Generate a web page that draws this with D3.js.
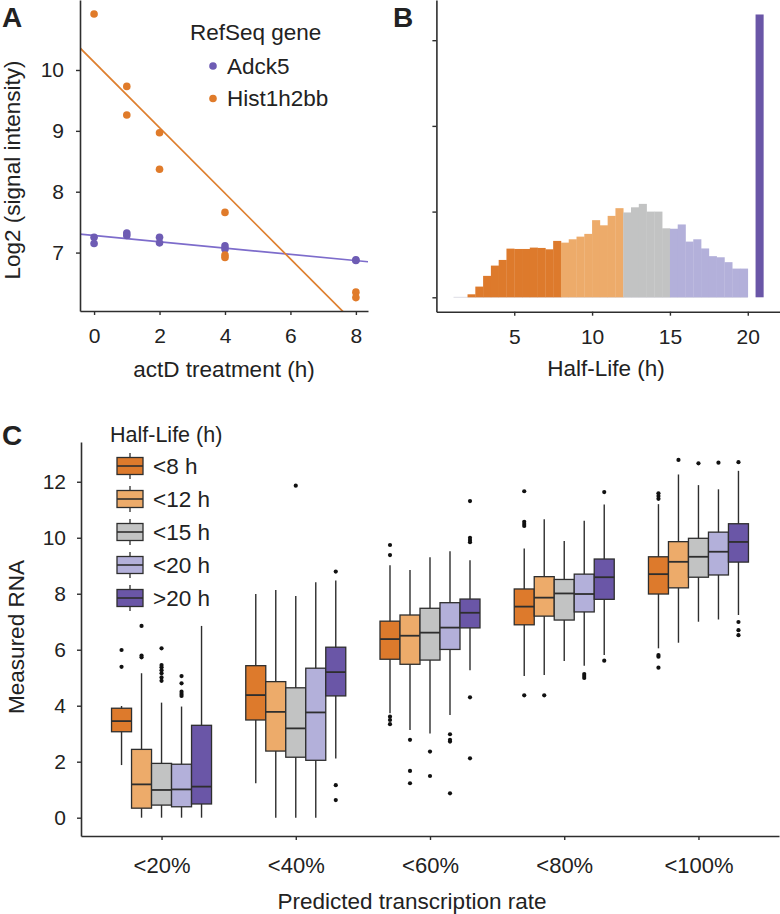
<!DOCTYPE html>
<html><head><meta charset="utf-8">
<script src="https://cdn.jsdelivr.net/npm/d3@7"></script>
<style>
body{margin:0;background:#fff}
svg{display:block}
text{font-family:"Liberation Sans",Arial,Helvetica,sans-serif;fill:#222}
</style>
</head><body><svg id="c" width="780" height="914"></svg>
<script>
// ---------- Panel A data ----------
const timeTicks = [0, 2, 4, 6, 8];
const log2Ticks = [7, 8, 9, 10];
const genes = ["Adck5", "Hist1h2bb"];
const adck5Time  = [0, 0, 1, 1, 2, 2, 4, 4, 8, 8];
const adck5Value = [7.25, 7.15, 7.32, 7.28, 7.25, 7.16, 7.11, 7.06, 6.88, 6.87];
const histTime   = [0, 1, 1, 2, 2, 4, 4, 4, 8, 8];
const histValue  = [10.92, 9.73, 9.26, 8.97, 8.37, 7.66, 6.96, 6.92, 6.35, 6.26];
const fitIntercept = [7.28, 10.13];
const fitSlope     = [-0.0515, -0.539];

// ---------- Panel B data ----------
const halfLifeTicks = [5, 10, 15, 20];
const binStart = [2, 2.5, 3, 3.5, 4, 4.5, 5, 5.5, 6, 6.5, 7, 7.5,
                  8, 8.5, 9, 9.5, 10, 10.5, 11, 11.5,
                  12, 12.5, 13, 13.5, 14, 14.5,
                  15, 15.5, 16, 16.5, 17, 17.5, 18, 18.5, 19, 19.5, 20.5];
const binCount = [0.035, 0.125, 0.25, 0.37, 0.436, 0.568, 0.564, 0.564, 0.58, 0.576, 0.56, 0.658,
                  0.638, 0.677, 0.708, 0.74, 0.90, 0.84, 0.95, 1.04,
                  0.99, 1.05, 1.09, 1.0, 1.0, 0.805,
                  0.80, 0.85, 0.65, 0.677, 0.57, 0.48, 0.467, 0.41, 0.335, 0.335, 3.3];
const binGroup = [0,0,0,0,0,0,0,0,0,0,0,0, 1,1,1,1,1,1,1,1, 2,2,2,2,2,2, 3,3,3,3,3,3,3,3,3,3, 4];
const binWidth = 0.5;
const countTicks = [0, 1, 2, 3];

// ---------- Panel C data ----------
const rateCats = ["<20%", "<40%", "<60%", "<80%", "<100%"];
const hlGroups = ["<8 h", "<12 h", "<15 h", "<20 h", ">20 h"];
const rnaTicks = [0, 2, 4, 6, 8, 10, 12];
// [category][half-life group]
const whiskLow = [[1.88, 0, 0, 0, 0],
                  [1.23, 0, 0, 0, 2.11],
                  [3.73, 3.13, 3.01, 3.67, 5.27],
                  [5.06, 5.10, 5.60, 5.43, 5.81],
                  [6.05, 6.25, 7.00, 7.08, 7.24]];
const q1 =       [[3.07, 0.34, 0.45, 0.39, 0.49],
                  [3.49, 2.38, 2.16, 2.05, 4.35],
                  [5.66, 5.48, 5.63, 6.01, 6.78],
                  [6.89, 7.20, 7.06, 7.35, 7.80],
                  [7.99, 8.21, 8.59, 8.67, 9.13]];
const median =   [[3.45, 1.19, 0.99, 1.01, 1.11],
                  [4.38, 3.78, 3.19, 3.76, 5.20],
                  [6.38, 6.50, 6.61, 6.79, 7.32],
                  [7.54, 7.86, 8.01, 7.99, 8.59],
                  [8.70, 9.14, 9.32, 9.50, 9.85]];
const q3 =       [[3.91, 2.44, 1.94, 1.91, 3.30],
                  [5.43, 4.86, 4.64, 5.34, 6.09],
                  [7.02, 7.24, 7.48, 7.68, 7.81],
                  [8.17, 8.61, 8.51, 8.70, 9.24],
                  [9.32, 9.86, 9.98, 10.20, 10.50]];
const whiskHigh =[[3.99, 5.16, 4.11, 3.97, 6.85],
                  [7.99, 8.13, 7.92, 8.41, 8.47],
                  [9.02, 8.85, 9.30, 9.52, 9.20],
                  [9.62, 10.66, 9.88, 10.61, 11.19],
                  [11.20, 12.26, 11.88, 11.73, 12.39]];
const outliers = [[[5.99, 5.39], [6.85, 5.79, 5.73], [6.05, 5.45, 5.37, 5.27, 5.16, 5.01, 4.89], [5.06, 4.80, 4.50, 4.42, 4.35], []],
                  [[], [], [11.86], [], [8.79, 1.16, 0.63]],
                  [[9.74, 9.38, 3.61, 3.49, 3.34], [2.78, 1.67, 1.23], [2.36, 1.49], [2.98, 2.78, 2.72, 0.87], [11.31, 10.0, 9.92, 9.84, 4.30, 2.12]],
                  [[11.66, 10.57, 10.49, 10.42, 4.37], [4.37], [], [5.13, 5.06, 4.99], [11.63, 5.61]],
                  [[11.59, 11.49, 11.39, 5.81, 5.75, 5.36], [12.78], [12.66], [12.68], [12.70, 6.99, 6.70, 6.52]]];

// ---------- styles ----------
const groupColors = ["#DD7A2C", "#EDAB6A", "#C2C3C3", "#B3B0DA", "#6A56A7"];
const geneColors = ["#6E5CB4", "#E07B2A"];
const lineColors = ["#7D6CCB", "#DE7F2F"];
const ink = "#2e2e2e";
const svg = d3.select("#c");

function styleAxis(g, fs) {
  g.selectAll("path.domain").attr("stroke", ink).attr("stroke-width", 1.6);
  g.selectAll(".tick line").attr("stroke", ink).attr("stroke-width", 1.4);
  g.selectAll(".tick text").style("font-size", fs + "px").attr("fill", "#222");
}

// ================= Panel A =================
const xA = d3.scaleLinear().domain([-0.43, 8.37]).range([80, 368]);
const yA = d3.scaleLinear().domain([6.04, 11.15]).range([311, 0]);
const gA = svg.append("g");
svg.append("defs").append("clipPath").attr("id", "clipA")
  .append("rect").attr("x", 80).attr("y", 0).attr("width", 288).attr("height", 311);

const fitG = gA.append("g").attr("clip-path", "url(#clipA)");
genes.forEach((g, i) => {
  const x0 = xA.domain()[0], x1 = xA.domain()[1];
  fitG.append("line")
    .attr("x1", xA(x0)).attr("y1", yA(fitIntercept[i] + fitSlope[i] * x0))
    .attr("x2", xA(x1)).attr("y2", yA(fitIntercept[i] + fitSlope[i] * x1))
    .attr("stroke", lineColors[i]).attr("stroke-width", 1.7);
});
const ptsA = [adck5Time.map((t, k) => [t, adck5Value[k]]), histTime.map((t, k) => [t, histValue[k]])];
ptsA.forEach((pts, i) => {
  gA.append("g").selectAll("circle").data(pts).join("circle")
    .attr("cx", d => xA(d[0])).attr("cy", d => yA(d[1])).attr("r", 3.8)
    .attr("fill", geneColors[i]);
});
const axAx = gA.append("g").attr("transform", "translate(0,311)")
  .call(d3.axisBottom(xA).tickValues(timeTicks).tickFormat(d3.format("d")).tickSize(4).tickPadding(13).tickSizeOuter(0));
styleAxis(axAx, 21);
const axAy = gA.append("g").attr("transform", "translate(80,0)")
  .call(d3.axisLeft(yA).tickValues(log2Ticks).tickFormat(d3.format("d")).tickSize(4).tickPadding(12).tickSizeOuter(0));
styleAxis(axAy, 21);
gA.append("text").attr("x", 224).attr("y", 377).attr("text-anchor", "middle")
  .style("font-size", "22.5px").text("actD treatment (h)");
gA.append("text").attr("transform", "translate(20,170) rotate(-90)").attr("text-anchor", "middle")
  .style("font-size", "22.5px").text("Log2 (signal intensity)");
// legend A
gA.append("text").attr("x", 190).attr("y", 40).style("font-size", "22.5px").text("RefSeq gene");
genes.forEach((g, i) => {
  gA.append("circle").attr("cx", 213).attr("cy", 66 + i * 32.5).attr("r", 3.8).attr("fill", geneColors[i]);
  gA.append("text").attr("x", 227).attr("y", 73.5 + i * 32.5).style("font-size", "22.5px").text(g);
});
svg.append("text").attr("x", 2).attr("y", 27).style("font-size", "28px").style("font-weight", "bold").attr("fill", "#111").text("A");

// ================= Panel B =================
const xB = d3.scaleLinear().domain([0, 22.07]).range([436.4, 780]);
const yB = d3.scaleLinear().domain([-0.168, 3.469]).range([311.7, 0]);
const gB = svg.append("g");
gB.append("line").attr("x1", xB(1.1)).attr("x2", xB(20)).attr("y1", yB(0)).attr("y2", yB(0))
  .attr("stroke", "#e4e4ea").attr("stroke-width", 1.2);
gB.append("g").selectAll("rect").data(binStart).join("rect")
  .attr("x", d => xB(d)).attr("width", d => xB(d + binWidth) - xB(d) + 0.3)
  .attr("y", (d, k) => yB(binCount[k])).attr("height", (d, k) => yB(0) - yB(binCount[k]))
  .attr("fill", (d, k) => groupColors[binGroup[k]]);
const axBx = gB.append("g").attr("transform", "translate(0,311.7)")
  .call(d3.axisBottom(xB).tickValues(halfLifeTicks).tickSize(4).tickPadding(13).tickSizeOuter(0));
styleAxis(axBx, 21);
const axBy = gB.append("g").attr("transform", "translate(436.4,0)")
  .call(d3.axisLeft(yB).tickValues(countTicks).tickFormat("").tickSize(4).tickSizeOuter(0));
styleAxis(axBy, 21);
gB.append("text").attr("x", 606).attr("y", 376).attr("text-anchor", "middle")
  .style("font-size", "22.5px").text("Half-Life (h)");
svg.append("text").attr("x", 393).attr("y", 27).style("font-size", "28px").style("font-weight", "bold").attr("fill", "#111").text("B");

// ================= Panel C =================
const xC = d3.scalePoint().domain(rateCats).range([81, 779]).padding(0.6);
const yC = d3.scaleLinear().domain([-0.654, 13.42]).range([836, 442]);
const dodge = d3.scaleBand().domain(hlGroups).range([-50, 50]).padding(0);
const bw = dodge.bandwidth();
const gC = svg.append("g");
const boxes = [];
rateCats.forEach((c, i) => hlGroups.forEach((h, j) => boxes.push({c, h, i, j})));
const bx = gC.selectAll("g.box").data(boxes).join("g").attr("class", "box")
  .attr("transform", d => `translate(${xC(d.c) + dodge(d.h)},0)`);
bx.append("line").attr("x1", bw / 2).attr("x2", bw / 2)
  .attr("y1", d => yC(whiskLow[d.i][d.j])).attr("y2", d => yC(whiskHigh[d.i][d.j]))
  .attr("stroke", ink).attr("stroke-width", 1.4);
bx.append("rect").attr("x", 0).attr("width", bw)
  .attr("y", d => yC(q3[d.i][d.j])).attr("height", d => yC(q1[d.i][d.j]) - yC(q3[d.i][d.j]))
  .attr("fill", d => groupColors[d.j]).attr("stroke", ink).attr("stroke-width", 1.3);
bx.append("line").attr("x1", 0).attr("x2", bw)
  .attr("y1", d => yC(median[d.i][d.j])).attr("y2", d => yC(median[d.i][d.j]))
  .attr("stroke", ink).attr("stroke-width", 1.8);
bx.each(function(d) {
  d3.select(this).selectAll("circle").data(outliers[d.i][d.j]).join("circle")
    .attr("cx", bw / 2).attr("cy", v => yC(v)).attr("r", 2.1).attr("fill", "#111");
});
const axCx = gC.append("g").attr("transform", "translate(0,836)")
  .call(d3.axisBottom(xC).tickSize(4).tickPadding(17).tickSizeOuter(0));
styleAxis(axCx, 22);
const axCy = gC.append("g").attr("transform", "translate(81,0)")
  .call(d3.axisLeft(yC).tickValues(rnaTicks).tickSize(4).tickPadding(11).tickSizeOuter(0));
styleAxis(axCy, 21);
gC.append("text").attr("x", 412).attr("y", 909).attr("text-anchor", "middle")
  .style("font-size", "22.5px").text("Predicted transcription rate");
gC.append("text").attr("transform", "translate(24,637) rotate(-90)").attr("text-anchor", "middle")
  .style("font-size", "22.5px").text("Measured RNA");
// legend C
gC.append("text").attr("x", 110).attr("y", 442).style("font-size", "21.5px").text("Half-Life (h)");
hlGroups.forEach((h, j) => {
  const cy = 466 + j * 33;
  const lg = gC.append("g");
  lg.append("line").attr("x1", 130).attr("x2", 130).attr("y1", cy - 13).attr("y2", cy + 13)
    .attr("stroke", ink).attr("stroke-width", 1.3);
  lg.append("rect").attr("x", 117).attr("y", cy - 8.5).attr("width", 26).attr("height", 17)
    .attr("fill", groupColors[j]).attr("stroke", ink).attr("stroke-width", 1.3);
  lg.append("line").attr("x1", 117).attr("x2", 143).attr("y1", cy).attr("y2", cy)
    .attr("stroke", ink).attr("stroke-width", 1.6);
  lg.append("text").attr("x", 153).attr("y", cy + 8).style("font-size", "22.5px").text(h);
});
svg.append("text").attr("x", 2).attr("y", 445).style("font-size", "28px").style("font-weight", "bold").attr("fill", "#111").text("C");
</script></body></html>
